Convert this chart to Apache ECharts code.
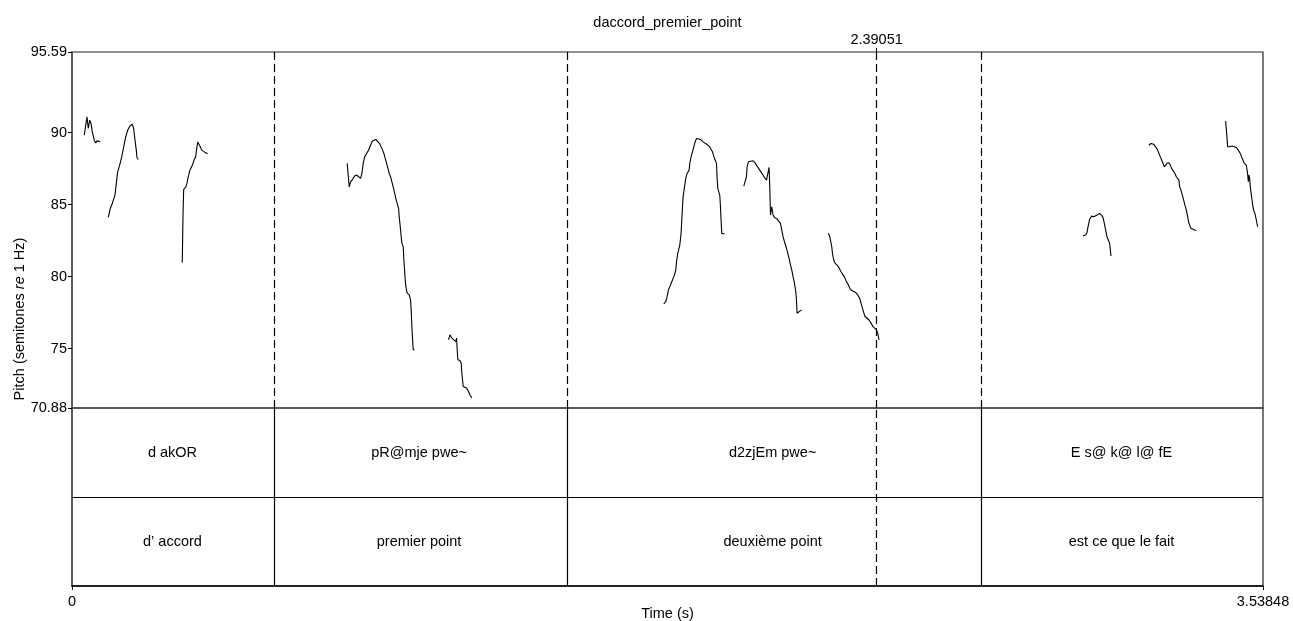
<!DOCTYPE html>
<html>
<head>
<meta charset="utf-8">
<script src="https://cdn.jsdelivr.net/npm/echarts@6/dist/echarts.min.js"></script>
<style>html,body{margin:0;padding:0;background:#fff;}#c{width:1293px;height:621px;}</style>
</head>
<body>
<div id="c"></div>
<script>
// ---- data (time in s, pitch in semitones re 1 Hz) ----
const seg1 = [[0.0365,89.82],[0.0445,91.09],[0.0484,90.28],[0.0526,90.86],[0.0564,90.63],[0.0603,90.05],[0.0645,89.94],[0.0662,89.47],[0.0704,89.28],[0.0743,89.42],[0.0841,89.38]];
const seg2 = [[0.1078,84.11],[0.1138,84.74],[0.1197,85.08],[0.1277,85.66],[0.1316,86.47],[0.1357,87.27],[0.1417,87.74],[0.1476,88.31],[0.1536,89.00],[0.1595,89.70],[0.1654,90.16],[0.1714,90.44],[0.1791,90.58],[0.1832,90.28],[0.1871,89.47],[0.1910,88.78],[0.1930,88.27],[0.1969,88.13]];
const seg3 = [[0.3276,80.97],[0.3300,84.50],[0.3318,86.05],[0.3377,86.19],[0.3415,86.47],[0.3454,86.93],[0.3496,87.34],[0.3555,87.62],[0.3594,87.86],[0.3632,88.13],[0.3674,88.31],[0.3713,89.01],[0.3734,89.35],[0.3773,89.24],[0.3811,89.01],[0.3853,88.78],[0.3892,88.66],[0.3971,88.59],[0.4030,88.55]];
const seg4 = [[0.8176,87.86],[0.8236,86.23],[0.8277,86.58],[0.8337,86.75],[0.8396,86.98],[0.8456,87.05],[0.8515,86.93],[0.8574,86.82],[0.8613,87.16],[0.8652,87.86],[0.8694,88.31],[0.8753,88.55],[0.8812,88.78],[0.8851,89.01],[0.8889,89.24],[0.8931,89.42],[0.8970,89.52],[0.9029,89.52],[0.9088,89.42],[0.9148,89.19],[0.9207,88.90],[0.9267,88.55],[0.9305,88.20],[0.9347,87.86],[0.9385,87.51],[0.9424,87.16],[0.9466,86.93],[0.9504,86.58],[0.9543,86.23],[0.9584,85.82],[0.9623,85.42],[0.9661,85.08],[0.9703,84.74],[0.9721,84.16],[0.9742,83.70],[0.9762,83.23],[0.9780,82.77],[0.9801,82.31],[0.9840,82.08],[0.9860,81.15],[0.9881,80.46],[0.9899,79.77],[0.9920,79.30],[0.9958,78.85],[1.0018,78.73],[1.0059,78.38],[1.0077,77.69],[1.0098,76.53],[1.0119,75.61],[1.0137,74.92],[1.0178,74.92]];
const seg5 = [[1.1188,75.61],[1.1227,75.96],[1.1286,75.73],[1.1345,75.61],[1.1405,75.49],[1.1426,75.73],[1.1444,74.92],[1.1464,74.23],[1.1524,74.18],[1.1562,74.00],[1.1583,73.30],[1.1622,72.37],[1.1681,72.49],[1.1723,72.26],[1.1782,72.03],[1.1821,71.80],[1.1880,71.57]];
const seg6 = [[1.7582,78.11],[1.7642,78.26],[1.7680,78.61],[1.7722,79.08],[1.7781,79.42],[1.7841,79.77],[1.7900,80.12],[1.7939,80.46],[1.7960,81.04],[1.7998,81.62],[1.8058,82.19],[1.8096,83.00],[1.8117,83.93],[1.8138,84.85],[1.8156,85.54],[1.8197,86.23],[1.8236,86.82],[1.8274,87.16],[1.8334,87.39],[1.8354,87.86],[1.8393,88.31],[1.8435,88.66],[1.8473,89.01],[1.8512,89.35],[1.8554,89.59],[1.8613,89.66],[1.8672,89.52],[1.8750,89.35],[1.8809,89.24],[1.8868,89.17],[1.8928,89.06],[1.8987,88.97],[1.9029,88.66],[1.9067,88.36],[1.9106,88.09],[1.9148,87.86],[1.9165,86.93],[1.9186,86.12],[1.9225,86.01],[1.9245,85.66],[1.9266,84.85],[1.9284,83.93],[1.9305,83.00],[1.9385,82.96]];
const seg7 = [[1.9959,86.28],[2.0018,86.19],[2.0039,86.93],[2.0056,87.62],[2.0098,87.97],[2.0157,88.09],[2.0235,88.04],[2.0294,87.90],[2.0354,87.67],[2.0434,87.39],[2.0514,87.11],[2.0573,86.89],[2.0633,86.70],[2.0671,86.82],[2.0710,87.58],[2.0731,86.23],[2.0752,84.27],[2.0790,84.85],[2.0829,84.27],[2.0870,84.11],[2.0930,84.04],[2.0989,83.93],[2.1048,83.70],[2.1087,83.23],[2.1126,82.77],[2.1168,82.42],[2.1227,81.97],[2.1266,81.62],[2.1304,81.27],[2.1346,80.81],[2.1384,80.46],[2.1423,80.00],[2.1465,79.54],[2.1503,78.96],[2.1524,78.38],[2.1542,77.46],[2.1583,77.57],[2.1643,77.64],[2.1681,77.69]];
const seg8 = [[2.2474,83.01],[2.2513,82.77],[2.2551,82.66],[2.2572,82.08],[2.2593,81.62],[2.2631,81.15],[2.2670,80.93],[2.2729,80.81],[2.2771,80.69],[2.2810,80.58],[2.2848,80.34],[2.2907,80.12],[2.2967,79.89],[2.3008,79.65],[2.3068,79.42],[2.3107,79.19],[2.3166,79.03],[2.3225,78.96],[2.3285,78.89],[2.3344,78.73],[2.3404,78.49],[2.3442,78.15],[2.3484,77.81],[2.3523,77.50],[2.3561,77.23],[2.3620,77.11],[2.3680,76.99],[2.3739,76.77],[2.3799,76.53],[2.3858,76.42],[2.3900,76.30],[2.3938,76.08],[2.3977,75.61]];
const seg9 = [[3.0036,82.82],[3.0077,82.91],[3.0116,82.89],[3.0155,83.05],[3.0196,83.58],[3.0235,83.98],[3.0294,84.20],[3.0354,84.16],[3.0413,84.20],[3.0472,84.29],[3.0532,84.39],[3.0553,84.48],[3.0591,84.25],[3.0630,84.11],[3.0671,83.70],[3.0710,83.23],[3.0749,82.77],[3.0791,82.77],[3.0829,82.31],[3.0850,81.85],[3.0868,81.43]];
const seg10 = [[3.1995,89.12],[3.2055,89.24],[3.2135,89.19],[3.2195,89.01],[3.2254,88.78],[3.2293,88.55],[3.2334,88.31],[3.2373,88.09],[3.2412,87.97],[3.2453,87.62],[3.2492,87.74],[3.2530,87.86],[3.2590,87.90],[3.2631,87.74],[3.2670,87.51],[3.2729,87.39],[3.2768,87.16],[3.2810,86.93],[3.2848,86.89],[3.2869,87.05],[3.2887,86.70],[3.2908,86.23],[3.2947,86.01],[3.2988,85.66],[3.3027,85.31],[3.3066,84.96],[3.3107,84.62],[3.3146,84.16],[3.3184,83.70],[3.3244,83.35],[3.3303,83.23],[3.3404,83.19]];
const seg11 = [[3.4274,90.81],[3.4312,90.86],[3.4314,89.70],[3.4333,89.01],[3.4393,89.01],[3.4473,89.06],[3.4532,89.12],[3.4591,88.96],[3.4651,88.78],[3.4710,88.55],[3.4749,88.31],[3.4788,88.09],[3.4829,87.86],[3.4889,87.74],[3.4927,87.16],[3.4948,86.58],[3.4966,87.05],[3.4987,86.82],[3.5008,86.23],[3.5046,85.54],[3.5085,84.85],[3.5106,84.62],[3.5144,84.39],[3.5186,83.93],[3.5225,83.46]];

const tMin = 0, tMax = 3.53848;
const pitchMin = 70.88, pitchMax = 95.59;
const pitchTicks = [70.88, 75, 80, 85, 90, 95.59];
const timeTicks = [0, 3.53848];
const cursorTime = 2.39051;
const boundaries = [0, 0.597, 1.4652, 2.698, 3.53848];
const phonLabels = ['d akOR', 'pR@mje pwe~', 'd2zjEm pwe~', 'E s@ k@ l@ fE'];
const wordLabels = ['d\u2019 accord', 'premier point', 'deuxi\u00e8me point', 'est ce que le fait'];
const titleText = 'daccord_premier_point';

// ---- chart ----
const FONT = '"Liberation Sans", Arial, sans-serif';
const FS = 14.5;
const segs = [seg1, seg2, seg3, seg4, seg5, seg6, seg7, seg8, seg9, seg10, seg11];
const innerBounds = boundaries.slice(1, -1);

const tierItems = [];
for (let i = 0; i < phonLabels.length; i++) tierItems.push([boundaries[i], boundaries[i + 1], 1, i]);
for (let i = 0; i < wordLabels.length; i++) tierItems.push([boundaries[i], boundaries[i + 1], 0, i]);

const series = segs.map(s => ({
  type: 'line', xAxisIndex: 0, yAxisIndex: 0, data: s, showSymbol: false, symbol: 'none',
  lineStyle: { color: '#000', width: 1.1 }, silent: true, animation: false
}));
// dashed boundaries in pitch area
series.push({
  type: 'line', xAxisIndex: 0, yAxisIndex: 0, data: [], silent: true, animation: false,
  markLine: {
    symbol: 'none', silent: true, animation: false, label: { show: false },
    lineStyle: { color: '#000', width: 1.2, type: [8, 4] },
    data: innerBounds.concat([cursorTime]).map(v => ({ xAxis: v }))
  }
});
// tiers
series.push({
  type: 'custom', xAxisIndex: 1, yAxisIndex: 1, data: tierItems, silent: true, animation: false,
  renderItem: function (params, api) {
    const s = api.value(0), e = api.value(1), row = api.value(2), idx = api.value(3);
    const c = api.coord([(s + e) / 2, row + 0.5]);
    const txt = row === 1 ? phonLabels[idx] : wordLabels[idx];
    return { type: 'text', style: { text: txt, x: c[0], y: c[1], align: 'center', verticalAlign: 'middle', font: FS + 'px ' + FONT, fill: '#000' } };
  },
  markLine: {
    symbol: 'none', silent: true, animation: false, label: { show: false },
    data: innerBounds.map(v => ({ xAxis: v, lineStyle: { color: '#000', width: 1.2, type: 'solid' } }))
      .concat([{ xAxis: cursorTime, lineStyle: { color: '#000', width: 1.2, type: [8, 4] } },
               { yAxis: 1, lineStyle: { color: '#000', width: 1.2, type: 'solid' } }])
  }
});

const chart = echarts.init(document.getElementById('c'), null, { renderer: 'canvas' });
chart.setOption({
  backgroundColor: '#fff',
  animation: false,
  textStyle: { fontFamily: FONT },
  grid: [
    { left: 72, right: 30, top: 52, height: 356, show: true, borderColor: '#222', borderWidth: 1.2, backgroundColor: 'transparent', containLabel: false, outerBoundsMode: 'none' },
    { left: 72, right: 30, top: 408, height: 178, show: true, borderColor: '#222', borderWidth: 1.2, backgroundColor: 'transparent', containLabel: false, outerBoundsMode: 'none' },
    { left: 72, right: 30, top: 52, height: 534, show: false, containLabel: false, outerBoundsMode: 'none' }
  ],
  xAxis: [
    { gridIndex: 0, type: 'value', min: tMin, max: tMax, position: 'top',
      name: titleText, nameLocation: 'middle', nameGap: 22, nameMoveOverlap: false, nameTextStyle: { fontSize: FS, color: '#000', fontFamily: FONT },
      axisLine: { show: false }, splitLine: { show: false },
      axisTick: { show: true, length: 4, customValues: [cursorTime], lineStyle: { color: '#000' } },
      axisLabel: { show: true, customValues: [cursorTime], margin: 5, fontSize: FS, color: '#000', fontFamily: FONT, formatter: v => String(v) } },
    { gridIndex: 1, type: 'value', min: tMin, max: tMax, position: 'bottom',
      name: 'Time (s)', nameLocation: 'middle', nameGap: 20, nameMoveOverlap: false, nameTextStyle: { fontSize: FS, color: '#000', fontFamily: FONT },
      axisLine: { show: true, lineStyle: { color: '#000', width: 1.5 } }, splitLine: { show: false },
      axisTick: { show: true, length: 4, customValues: timeTicks, lineStyle: { color: '#000' } },
      axisLabel: { show: true, customValues: timeTicks, margin: 8, fontSize: FS, color: '#000', fontFamily: FONT, formatter: v => String(v),
        alignMinLabel: 'center', alignMaxLabel: 'center' } },
    { gridIndex: 2, type: 'value', min: tMin, max: tMax, show: false }
  ],
  yAxis: [
    { gridIndex: 0, type: 'value', min: pitchMin, max: pitchMax,
      axisLine: { show: true, lineStyle: { color: '#555', width: 1.6 } }, splitLine: { show: false },
      axisTick: { show: true, length: 4, customValues: pitchTicks, lineStyle: { color: '#000' } },
      axisLabel: { show: true, customValues: pitchTicks, margin: 5, fontSize: FS, color: '#000', fontFamily: FONT, formatter: v => String(v),
        verticalAlign: 'middle' } },
    { gridIndex: 1, type: 'value', min: 0, max: 2, show: true,
      axisLine: { show: true, lineStyle: { color: '#555', width: 1.6 } }, axisTick: { show: false }, axisLabel: { show: false }, splitLine: { show: false } },
    { gridIndex: 2, type: 'value', min: 0, max: 1, show: true,
      axisLine: { show: false }, axisTick: { show: false }, axisLabel: { show: false }, splitLine: { show: false },
      name: '{n|Pitch (semitones }{i|re}{n| 1 Hz)}', nameLocation: 'middle', nameGap: 45, nameRotate: 90, nameMoveOverlap: false,
      nameTextStyle: { color: '#000', rich: { n: { fontSize: FS, fontFamily: FONT, color: '#000' }, i: { fontSize: FS, fontStyle: 'italic', fontFamily: FONT, color: '#000' } } } }
  ],
  series: series
});
</script>
</body>
</html>
